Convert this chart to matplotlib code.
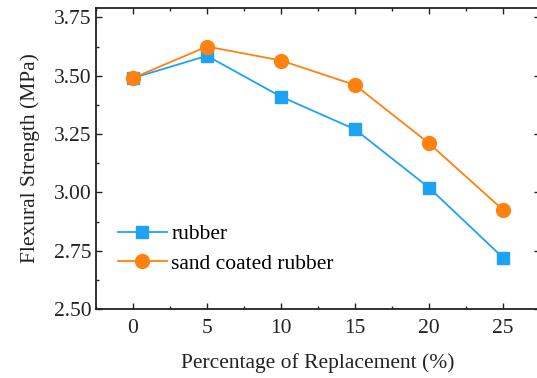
import matplotlib
matplotlib.use("Agg")
import matplotlib.pyplot as plt
from matplotlib.ticker import MultipleLocator

plt.rcParams['font.family'] = ['Liberation Serif', 'DejaVu Serif']

replacement = [0, 5, 10, 15, 20, 25]
rubber = [3.49, 3.585, 3.41, 3.27, 3.02, 2.72]
sand_coated = [3.49, 3.625, 3.565, 3.46, 3.21, 2.925]

W, H = 537, 378
fig = plt.figure(figsize=(W / 100, H / 100), dpi=100)
ax = fig.add_axes([96 / W, 1 - 309 / H, (540 - 96) / W, (309 - 8) / H])

ax.plot(replacement, rubber, color='#1EA2F4', marker='s', markersize=8.5, lw=1.3, label='rubber')
ax.plot(replacement, sand_coated, color='#FF8210', marker='o', markersize=10, lw=1.3, label='sand coated rubber')

ax.set_xlim(-2.5, 27.5)
ax.set_ylim(2.5, 3.79)
ax.set_xticks(replacement)
ax.set_yticks([2.50, 2.75, 3.00, 3.25, 3.50, 3.75])
ax.set_yticklabels(['2.50', '2.75', '3.00', '3.25', '3.50', '3.75'])
ax.xaxis.set_minor_locator(MultipleLocator(2.5))
ax.yaxis.set_minor_locator(MultipleLocator(0.125))
ax.tick_params(which='both', direction='in', top=True, right=True, labelsize=15.5, colors='#222222')
ax.tick_params(which='major', length=4, width=1)
ax.tick_params(which='minor', length=2.5, width=1)
ax.tick_params(axis='x', pad=7)
ax.tick_params(axis='y', pad=3)
for s in ax.spines.values():
    s.set_linewidth(1.3)
    s.set_color('#222222')

ax.set_xlabel('Percentage of Replacement (%)', fontsize=15.5, labelpad=11, color='#222222')
ax.set_ylabel('Flexural Strength (MPa)', fontsize=15.5, labelpad=10, color='#222222')

ax.legend(loc='lower left', bbox_to_anchor=(0.005, 0.052), frameon=False, fontsize=15.5,
          handlelength=2.3, handletextpad=0.2, labelspacing=0.45)

fig.savefig('out.png', dpi=100)
